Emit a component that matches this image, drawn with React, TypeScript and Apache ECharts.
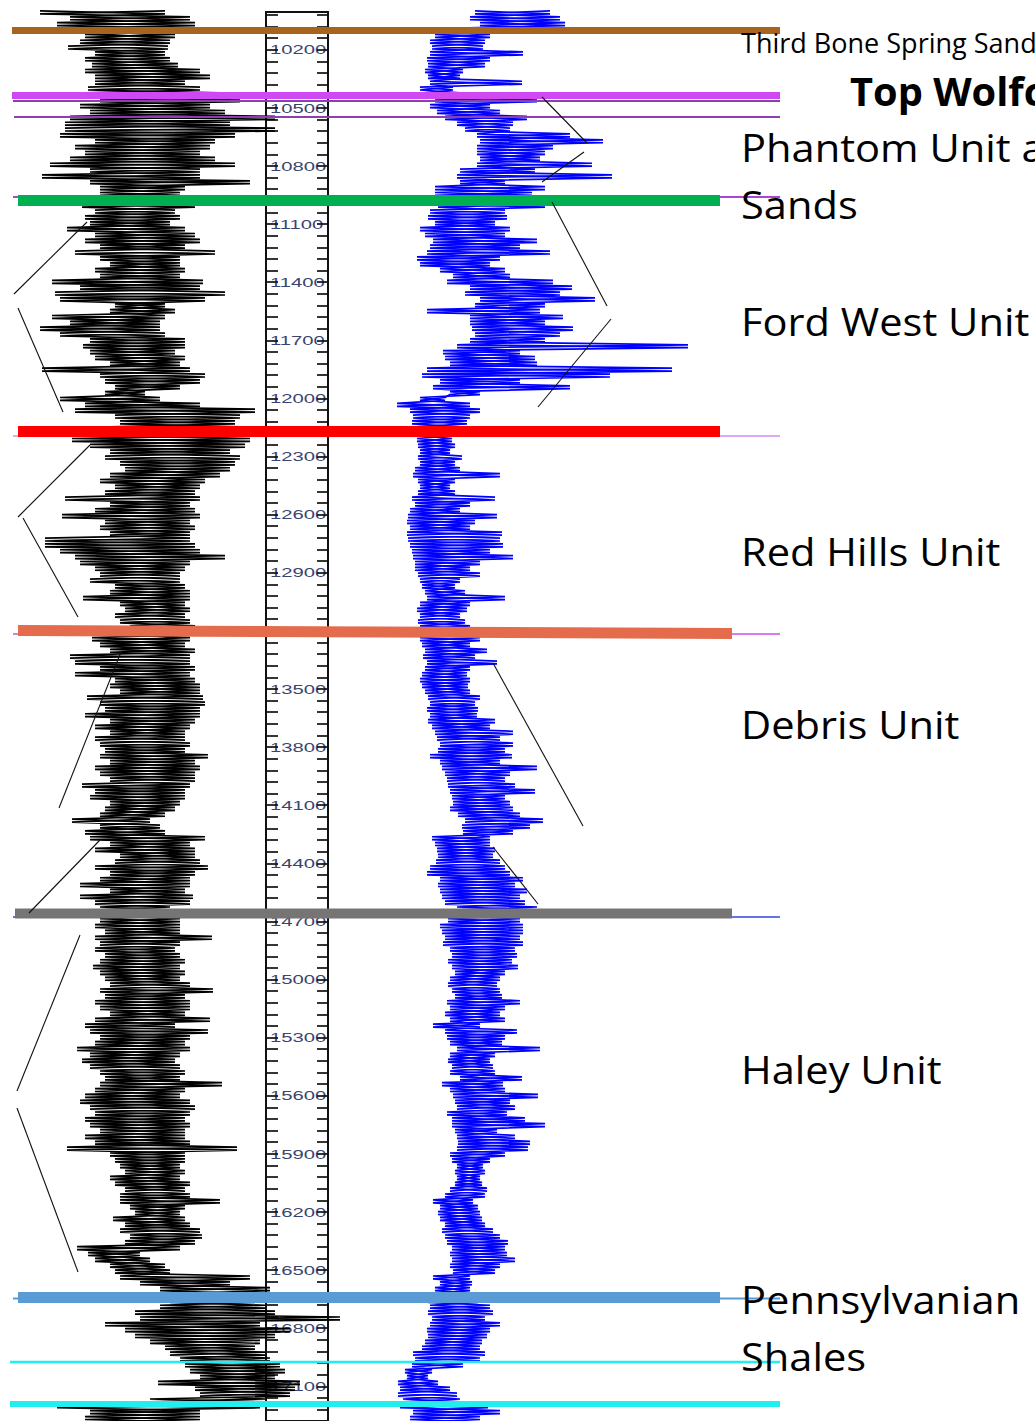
import React, { useEffect, useRef } from "react";
import * as echarts from "echarts";

// ---- digitised logs: one reading pair (left / right excursion) every 30 ft from 10000 ft ----
const LOG_TOP_DEPTH = 10000;
const LOG_STEP = 30;

// Gamma-ray style curve (black), track units
const grLo = [
  40, 70, 57, 60, 85, 80, 68, 95, 85, 92,
  85, 95, 95, 88, 85, 100, 80, 90, 70, 65,
  65, 60, 95, 75, 85, 70, 50, 90, 42, 90,
  100, 100, 82, 82, 95, 85, 90, 67, 95, 85,
  100, 75, 100, 110, 95, 100, 52, 80, 55, 60,
  115, 110, 52, 70, 40, 60, 90, 83, 90, 95,
  110, 42, 100, 105, 115, 105, 60, 85, 75, 115,
  120, 110, 120, 72, 90, 110, 105, 120, 125, 110,
  100, 115, 105, 65, 110, 95, 62, 105, 100, 110,
  45, 45, 60, 75, 80, 95, 100, 90, 115, 110,
  83, 120, 125, 115, 120, 130, 125, 92, 100, 110,
  70, 75, 100, 75, 115, 110, 120, 87, 100, 105,
  85, 110, 95, 110, 95, 100, 105, 100, 110, 95,
  100, 110, 82, 95, 90, 110, 105, 100, 72, 100,
  85, 90, 110, 95, 120, 115, 95, 110, 100, 80,
  110, 80, 95, 100, 105, 100, 95, 105, 95, 100,
  95, 105, 100, 93, 100, 105, 110, 100, 105, 95,
  100, 110, 95, 85, 90, 100, 95, 77, 90, 82,
  90, 100, 105, 100, 95, 85, 80, 90, 95, 85,
  90, 100, 85, 95, 67, 110, 115, 120, 125, 110,
  115, 125, 120, 120, 130, 135, 113, 125, 120, 130,
  125, 77, 88, 95, 110, 115, 120, 140, 160, 180,
  170, 160, 135, 140, 105, 125, 135, 150, 165, 170,
  180, 185, 190, 200, 158, 195, 200, 150, 57, 90,
  85, 80,
];
const grHi = [
  165, 190, 195, 190, 175, 170, 168, 165, 170, 178,
  200, 210, 185, 200, 220, 240, 210, 225, 275, 230,
  275, 235, 215, 210, 200, 215, 235, 200, 200, 250,
  185, 180, 195, 195, 175, 180, 170, 185, 195, 200,
  185, 215, 180, 180, 185, 180, 203, 200, 225, 205,
  165, 175, 165, 160, 160, 165, 185, 185, 175, 185,
  180, 190, 205, 200, 180, 145, 160, 200, 255, 240,
  235, 240, 245, 250, 245, 230, 240, 235, 230, 220,
  205, 200, 195, 200, 190, 195, 200, 190, 195, 190,
  190, 195, 200, 225, 190, 185, 180, 180, 185, 190,
  190, 185, 190, 185, 190, 195, 190, 190, 185, 195,
  190, 190, 195, 190, 195, 200, 200, 203, 205, 200,
  200, 195, 190, 185, 185, 190, 185, 208, 195, 200,
  195, 195, 190, 185, 185, 180, 175, 165, 150, 160,
  165, 205, 190, 195, 195, 200, 208, 195, 190, 190,
  185, 193, 190, 170, 175, 180, 180, 180, 212, 180,
  175, 180, 185, 180, 185, 180, 190, 213, 185, 190,
  190, 185, 210, 175, 208, 190, 185, 190, 180, 175,
  180, 185, 180, 222, 185, 180, 190, 195, 190, 185,
  190, 185, 185, 190, 237, 185, 185, 180, 185, 180,
  190, 185, 190, 220, 185, 180, 185, 190, 200, 202,
  195, 180, 140, 150, 165, 170, 250, 230, 270, 245,
  255, 265, 275, 340, 260, 290, 275, 260, 255, 265,
  270, 280, 285, 275, 300, 295, 290, 265, 260, 200,
  200, 210,
];

// Resistivity style curve (blue), track units
const resLo = [
  125, 120, 130, 88, 85, 80, 82, 80, 77, 78,
  75, 78, 80, 70, 75, 85, 80, 87, 95, 107,
  115, 127, 130, 127, 127, 130, 127, 110, 107, 110,
  85, 85, 90, 88, 80, 78, 85, 70, 75, 83,
  80, 77, 67, 70, 90, 103, 97, 120, 115, 130,
  125, 77, 120, 120, 122, 125, 120, 107, 93, 95,
  100, 77, 72, 90, 83, 100, 70, 47, 60, 63,
  62, 65, 68, 67, 68, 70, 68, 70, 65, 63,
  68, 70, 68, 62, 65, 60, 58, 57, 60, 57,
  58, 60, 62, 63, 65, 65, 68, 70, 72, 75,
  77, 70, 67, 70, 68, 70, 70, 70, 72, 75,
  73, 77, 75, 72, 70, 72, 75, 78, 80, 77,
  80, 78, 82, 85, 87, 90, 88, 80, 90, 92,
  95, 97, 98, 100, 102, 103, 100, 108, 115, 112,
  113, 82, 85, 87, 88, 86, 80, 77, 90, 88,
  90, 92, 95, 107, 100, 98, 90, 92, 95, 93,
  100, 102, 98, 102, 105, 100, 98, 102, 105, 97,
  100, 95, 100, 83, 95, 97, 100, 107, 100, 98,
  102, 100, 110, 92, 100, 103, 105, 107, 97, 102,
  102, 105, 107, 108, 107, 100, 102, 107, 105, 107,
  105, 100, 95, 83, 90, 88, 90, 95, 92, 95,
  97, 102, 100, 102, 100, 103, 83, 90, 85, 80,
  78, 80, 78, 82, 80, 77, 78, 75, 72, 63,
  65, 62, 55, 57, 48, 50, 48, 53, 50, 63,
  60, 65,
];
const resHi = [
  200, 210, 215, 193, 140, 135, 133, 173, 140, 135,
  113, 110, 172, 103, 110, 187, 140, 150, 177, 163,
  160, 220, 253, 203, 195, 190, 242, 185, 262, 155,
  195, 182, 170, 195, 155, 157, 145, 160, 155, 187,
  170, 200, 150, 140, 155, 160, 203, 222, 210, 245,
  195, 190, 213, 195, 223, 210, 195, 338, 170, 185,
  187, 322, 260, 170, 220, 130, 95, 120, 130, 120,
  117, 110, 105, 102, 105, 100, 112, 105, 110, 150,
  105, 100, 105, 145, 120, 110, 147, 125, 120, 152,
  150, 153, 140, 163, 130, 120, 130, 110, 105, 115,
  155, 120, 117, 110, 115, 120, 125, 130, 120, 137,
  125, 147, 120, 117, 120, 118, 120, 130, 125, 128,
  127, 145, 140, 163, 150, 163, 155, 162, 150, 187,
  160, 155, 165, 185, 155, 160, 163, 170, 193, 180,
  163, 140, 140, 145, 143, 150, 155, 160, 173, 165,
  177, 170, 175, 187, 175, 170, 173, 173, 170, 173,
  165, 167, 162, 168, 155, 150, 147, 150, 152, 170,
  155, 150, 155, 130, 167, 155, 152, 190, 145, 140,
  143, 145, 172, 153, 155, 188, 160, 165, 157, 175,
  195, 147, 165, 180, 178, 155, 140, 133, 135, 130,
  132, 137, 135, 123, 128, 130, 132, 135, 143, 150,
  158, 155, 157, 165, 150, 145, 120, 122, 120, 130,
  128, 140, 143, 135, 150, 140, 137, 132, 130, 135,
  130, 113, 82, 78, 88, 100, 107, 110, 138, 150,
  130, 135,
];

// depth track labels (ft)
const depthTickLabels = [
  10200, 10500, 10800, 11100, 11400, 11700, 12000, 12300, 12600, 12900, 13200, 13500,
  13800, 14100, 14400, 14700, 15000, 15300, 15600, 15900, 16200, 16500, 16800, 17100,
];

// unit names and the depth at which each name is written
const unitNames = [
  "Third Bone Spring Sand", "Top Wolfcamp", "Phantom Unit and", "Sands", "Ford West Unit",
  "Red Hills Unit", "Debris Unit", "Haley Unit", "Pennsylvanian", "Shales",
];
const unitLabelDepths = [10160, 10410, 10700, 10994, 11591, 12769, 13655, 15422, 16602, 16894];

// formation-top marker lines: depth at left end, depth at right end (ft)
const topLineDepthsLeft = [
  10461, 10543, 10953, 12177, 13191, 14641, 16595, 16921,
  10100, 10433, 10971, 12154, 13174, 14623, 16590, 17136,
];
const topLineDepthsRight = [
  10461, 10543, 10953, 12177, 13191, 14641, 16595, 16921,
  10100, 10433, 10971, 12154, 13189, 14623, 16590, 17136,
];

// ---- presentation ----
const topLineStyles = [
  { x1: 13, x2: 780, w: 2, c: "#8B3FB0" },
  { x1: 14, x2: 780, w: 2, c: "#8B3FB0" },
  { x1: 13, x2: 780, w: 2, c: "#A845D8" },
  { x1: 13, x2: 780, w: 2, c: "#E2A6F2" },
  { x1: 13, x2: 780, w: 1.5, c: "#C850E8" },
  { x1: 13, x2: 780, w: 1.5, c: "#3344DD" },
  { x1: 13, x2: 780, w: 2, c: "#5B9BD5" },
  { x1: 10, x2: 780, w: 2.5, c: "#22EEEE" },
  { x1: 12, x2: 780, w: 7, c: "#A8631D" },
  { x1: 12, x2: 780, w: 7, c: "#CF48F2" },
  { x1: 18, x2: 720, w: 11, c: "#00B050" },
  { x1: 18, x2: 720, w: 11, c: "#FF0000" },
  { x1: 18, x2: 732, w: 11, c: "#E46C4C" },
  { x1: 15, x2: 732, w: 10, c: "#777474" },
  { x1: 18, x2: 720, w: 11, c: "#5B9BD5" },
  { x1: 10, x2: 780, w: 6, c: "#22EEEE" },
];

const unitLabelStyles = [
  { x: 741, size: 26.5, weight: "normal", sx: 1.02 },
  { x: 850, size: 39, weight: "bold", sx: 1.02 },
  { x: 741, size: 37.5, weight: "normal", sx: 1.11 },
  { x: 741, size: 37.5, weight: "normal", sx: 1.11 },
  { x: 741, size: 37.5, weight: "normal", sx: 1.11 },
  { x: 741, size: 37.5, weight: "normal", sx: 1.11 },
  { x: 741, size: 37.5, weight: "normal", sx: 1.11 },
  { x: 741, size: 37.5, weight: "normal", sx: 1.11 },
  { x: 741, size: 37.5, weight: "normal", sx: 1.11 },
  { x: 741, size: 37.5, weight: "normal", sx: 1.11 },
];

const bracketLines = [
  [87, 222, 14, 294], [18, 308, 63, 412],
  [90, 445, 18, 517], [23, 518, 78, 617],
  [121, 652, 59, 808], [100, 840, 29, 913],
  [80, 935, 17, 1091], [17, 1108, 78, 1272],
  [542, 97, 587, 143], [584, 152, 542, 182],
  [552, 202, 607, 306], [611, 319, 538, 407],
  [493, 663, 583, 826], [493, 847, 538, 904],
];

const Y_MIN = 9943.9;
const Y_MAX = 17222.8;
const TRACK_MIN = 10005.35;
const TRACK_MAX = 17279.2;

// each reading pair is drawn as a streak from its left to its right excursion;
// `mirror` draws the same streaks in the opposite direction so the hatching closes up
function streaks(lo: number[], hi: number[], mirror: boolean) {
  const pts: number[][] = [];
  for (let i = 0; i < lo.length; i++) {
    const d = LOG_TOP_DEPTH + i * LOG_STEP;
    if (mirror) pts.push([hi[i], d], [lo[i], d + LOG_STEP / 2]);
    else pts.push([lo[i], d], [hi[i], d + LOG_STEP / 2]);
  }
  return pts;
}

export default function App() {
  const ref = useRef<HTMLDivElement>(null);

  useEffect(() => {
    const chart = echarts.init(ref.current!, null, { renderer: "svg" });

    const trackTicks: number[] = [];
    for (let d = 10020; d <= 17280; d += 60) trackTicks.push(d);

    const depthAxis = (gridIndex: number) => ({
      type: "value" as const,
      gridIndex,
      min: Y_MIN,
      max: Y_MAX,
      inverse: true,
      show: false,
    });

    const topSeries = topLineStyles.map((s, i) => ({
      type: "line",
      xAxisIndex: 3,
      yAxisIndex: 4,
      data: [
        [s.x1, topLineDepthsLeft[i]],
        [s.x2, topLineDepthsRight[i]],
      ],
      symbol: "none",
      silent: true,
      z: 5,
      lineStyle: { color: s.c, width: s.w, cap: "butt" },
    }));

    const curve = (axis: number, lo: number[], hi: number[], mirror: boolean, color: string, width: number) => ({
      type: "line",
      xAxisIndex: axis,
      yAxisIndex: axis,
      data: streaks(lo, hi, mirror),
      symbol: "none",
      silent: true,
      z: 3,
      lineStyle: { color, width },
    });

    const option: any = {
      animation: false,
      backgroundColor: "#ffffff",
      grid: [
        { left: 0, top: 0, width: 350, height: 1421 },
        { left: 350, top: 0, width: 400, height: 1421 },
        {
          left: 266, top: 12, width: 62, height: 1420,
          show: true, borderColor: "#111111", borderWidth: 2, backgroundColor: "transparent",
        },
        { left: 0, top: 0, width: 1035, height: 1421 },
      ],
      xAxis: [
        { type: "value", gridIndex: 0, min: 0, max: 350, show: false },
        { type: "value", gridIndex: 1, min: 0, max: 400, show: false },
        { type: "value", gridIndex: 2, min: 0, max: 1, show: false },
        { type: "value", gridIndex: 3, min: 0, max: 1035, show: false },
      ],
      yAxis: [
        depthAxis(0),
        depthAxis(1),
        {
          type: "value", gridIndex: 2, min: TRACK_MIN, max: TRACK_MAX, inverse: true,
          position: "left", z: 1.5,
          axisLine: { show: false },
          splitLine: { show: false },
          axisLabel: { show: false },
          axisTick: {
            show: true, inside: true, length: 12, customValues: trackTicks,
            lineStyle: { color: "#111111", width: 1.7 },
          },
        },
        {
          type: "value", gridIndex: 2, min: TRACK_MIN, max: TRACK_MAX, inverse: true,
          position: "right", z: 1.5,
          axisLine: { show: false },
          splitLine: { show: false },
          axisLabel: { show: false },
          axisTick: {
            show: true, inside: true, length: 11, customValues: trackTicks,
            lineStyle: { color: "#111111", width: 1.7 },
          },
        },
        depthAxis(3),
      ],
      series: [
        {
          type: "custom",
          xAxisIndex: 2,
          yAxisIndex: 2,
          z: 1,
          silent: true,
          data: depthTickLabels.map((d) => [0, d]),
          renderItem: (params: any, api: any) => {
            const pt = api.coord([0, api.value(1)]);
            return {
              type: "text",
              x: pt[0] + 4,
              y: pt[1],
              scaleX: 1.5,
              style: {
                text: String(depthTickLabels[params.dataIndex]),
                fill: "#3a4470",
                fontSize: 13.5,
                fontFamily: "Liberation Sans",
                align: "left",
                verticalAlign: "middle",
                textAlign: "left",
                textVerticalAlign: "middle",
              },
            };
          },
        },
        curve(0, grLo, grHi, false, "#000000", 1.7),
        curve(0, grLo, grHi, true, "#000000", 1.7),
        curve(1, resLo, resHi, false, "#0000FF", 1.7),
        curve(1, resLo, resHi, true, "#0000FF", 1.7),
        ...topSeries,
        {
          type: "custom",
          xAxisIndex: 3,
          yAxisIndex: 4,
          z: 8,
          silent: true,
          data: unitLabelDepths.map((d, i) => [unitLabelStyles[i].x, d]),
          renderItem: (params: any, api: any) => {
            const pt = api.coord([api.value(0), api.value(1)]);
            const st = unitLabelStyles[params.dataIndex];
            return {
              type: "text",
              x: pt[0],
              y: pt[1],
              scaleX: st.sx,
              style: {
                text: unitNames[params.dataIndex],
                fill: "#000000",
                fontSize: st.size,
                fontWeight: st.weight,
                fontFamily: "Open Sans",
                align: "left",
                verticalAlign: "middle",
                textAlign: "left",
                textVerticalAlign: "middle",
              },
            };
          },
        },
      ],
      graphic: {
        elements: bracketLines.map((l) => ({
          type: "line",
          z: 50,
          silent: true,
          shape: { x1: l[0], y1: l[1], x2: l[2], y2: l[3] },
          style: { stroke: "#111111", lineWidth: 1.1 },
        })),
      },
    };

    chart.setOption(option);
    return () => chart.dispose();
  }, []);

  return (
    <div
      ref={ref}
      style={{ position: "fixed", left: 0, top: 0, width: 1035, height: 1421, background: "#ffffff" }}
    />
  );
}
